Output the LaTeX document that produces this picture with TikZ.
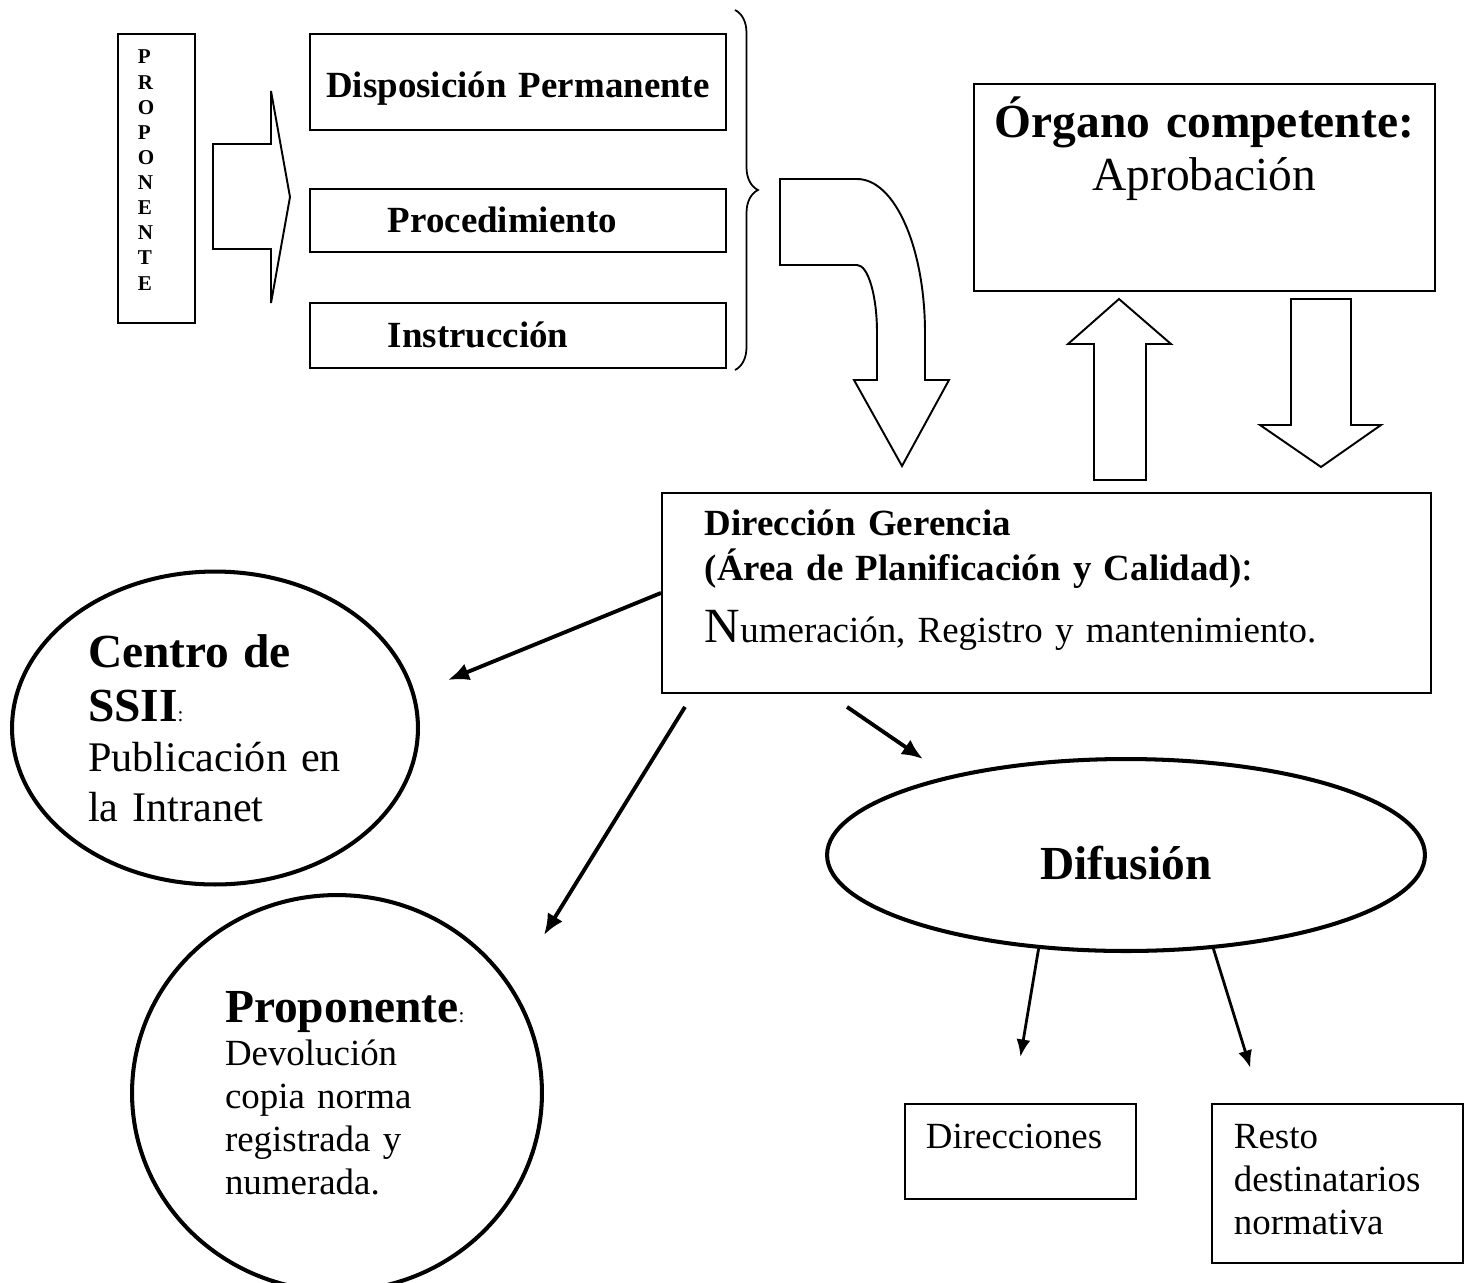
\documentclass[tikz,border=0pt]{standalone}
\usepackage{fontspec}
\setmainfont{Liberation Serif}
\usetikzlibrary{positioning,arrows.meta,calc,shapes.geometric,decorations.pathreplacing}
\hyphenpenalty=10000
\tikzset{
    block/.style = {
        draw,
        shape=rectangle,
        anchor=north west,
        inner ysep=0pt,
        align=left,
        line width=1.1pt
    },
    oval/.style = {
        draw,
        shape=ellipse,
        inner sep=0pt,
        align=left,
        line width=2.3pt
    },
    bigarrow/.style = {
        draw,
        line width=1.1pt,
        line join=miter
    },
    link/.style = {
        draw,
        ->,
        line width=2.2pt
    },
    thinlink/.style = {
        draw,
        -{Latex[length=10pt,width=8pt]},
        line width=1.6pt
    },
    >={Latex[length=12pt,width=10pt]},
}

\begin{document}
\begin{tikzpicture}[x=0.02cm, y=-0.02cm]
    \useasboundingbox (0,0) rectangle (1471,1282);
    \clip (0,0) rectangle (1471,1282);

    % top row
    \node[block, text width=0.74cm, inner xsep=0.4cm, text height=0.6cm, text depth=5.18cm,
        font=\fontsize{12}{14.3}\selectfont\bfseries] (proponente) at (117,33)
        {P\\R\\O\\P\\O\\N\\E\\N\\T\\E};
    \node[block, text width=7.92cm, inner xsep=0.2cm, align=center, text height=1.28cm, text depth=0.64cm,
        font=\fontsize{21}{24}\selectfont\bfseries] (disp) at (309,33) {Disposición Permanente};
    \node[block, text width=5.2cm, inner xsep=1.56cm, text height=0.88cm, text depth=0.38cm,
        font=\fontsize{21}{24}\selectfont\bfseries] (proc) at (309,188) {Procedimiento};
    \node[block, text width=5.2cm, inner xsep=1.56cm, text height=0.9cm, text depth=0.4cm,
        font=\fontsize{21}{24}\selectfont\bfseries] (instr) at (309,302) {Instrucción};
    \node[block, text width=8.82cm, inner xsep=0.2cm, align=center, text height=1.08cm, text depth=3.06cm,
        font=\fontsize{27}{30}\selectfont] (organo) at (973,83) {\textbf{Órgano competente:}\\Aprobación};

    % middle
    \node[block, text width=13.66cm, inner xsep=0.86cm, text height=0.86cm, text depth=3.14cm,
        font=\fontsize{21}{25.5}\selectfont] (dir) at (661,492)
        {\textbf{Dirección Gerencia}\\\textbf{(Área de Planificación y Calidad)}{\fontsize{24}{24}\selectfont:}\\[9.5pt]{\fontsize{28}{28}\selectfont N}umeración, Registro y mantenimiento.};
    \node[oval, minimum width=8.12cm, minimum height=6.26cm, text width=5.08cm,
        font=\fontsize{24}{28.3}\selectfont] (ssii) at (215,728)
        {{\fontsize{27}{27}\selectfont\bfseries Centro de}\\[2.7pt]{\fontsize{27}{27}\selectfont\bfseries SSII}{\fontsize{12}{12}\selectfont:}\\Publicación en\\la Intranet};
    \node[oval, minimum width=11.96cm, minimum height=3.84cm, text height=1cm,
        font=\fontsize{27}{30}\selectfont\bfseries] (dif) at (1126,855) {Difusión};

    % bottom
    \node[oval, minimum width=8.2cm, minimum height=7.92cm, text width=4.48cm,
        font=\fontsize{21}{24.4}\selectfont] (devol) at (337,1093)
        {{\fontsize{27}{27}\selectfont\bfseries Proponente}{\fontsize{12}{12}\selectfont:}\\[0.6pt]Devolución\\copia norma\\registrada y\\numerada.};
    \node[block, text width=3.78cm, inner xsep=0.42cm, text height=0.9cm, text depth=1cm,
        font=\fontsize{21}{24.4}\selectfont] (direc) at (904,1103) {Direcciones};
    \node[block, text width=4.14cm, inner xsep=0.44cm, text height=0.9cm, text depth=2.28cm,
        font=\fontsize{21}{24.4}\selectfont] (resto) at (1211,1103) {Resto\\destinatarios\\normativa};

    % block arrows and brace
    \path[bigarrow] (213,144) -- (271,144) -- (271,91) -- (290,197) -- (271,303) -- (271,249) -- (213,249) -- cycle;
    \draw[decorate, decoration={brace, amplitude=0.46cm}, line width=1pt] (735,10) -- (735,370);
    \path[bigarrow] (780,179) -- (857,179) .. controls (895,179) and (925,248) .. (925,333) -- (925,380)
        -- (949,380) -- (902,466) -- (854,380) -- (877,380) -- (877,333)
        .. controls (877,295) and (868,265) .. (857,265) -- (780,265) -- cycle;
    \path[bigarrow] (1094,480) -- (1094,344) -- (1068,344) -- (1119,299) -- (1171,344) -- (1146,344) -- (1146,480) -- cycle;
    \path[bigarrow] (1291,299) -- (1351,299) -- (1351,425) -- (1381,425) -- (1321,467) -- (1260,425) -- (1291,425) -- cycle;

    % connectors
    \coordinate (ssiiin) at ($(ssii.east)+(28,-48)$);
    \coordinate (dirout2) at ($(dir.south west)+(24,13)$);
    \coordinate (dirout3) at ($(dir.south west)+(186,13)$);
    \coordinate (devolin) at ($(devol.east)+(0,-158)$);
    \coordinate (difin) at ($(dif.north)+(-203,2)$);
    \coordinate (direcin) at ($(direc.north)+(0,-46)$);
    \coordinate (restoin) at ($(resto.north)+(-87,-35)$);

    \path[link] (dir.west) -- (ssiiin);
    \path[link] (dirout2) -- (devolin);
    \path[link] (dirout3) -- (difin);
    \path[thinlink] (dif.227) -- (direcin);
    \path[thinlink] (dif.313) -- (restoin);
\end{tikzpicture}
\end{document}
